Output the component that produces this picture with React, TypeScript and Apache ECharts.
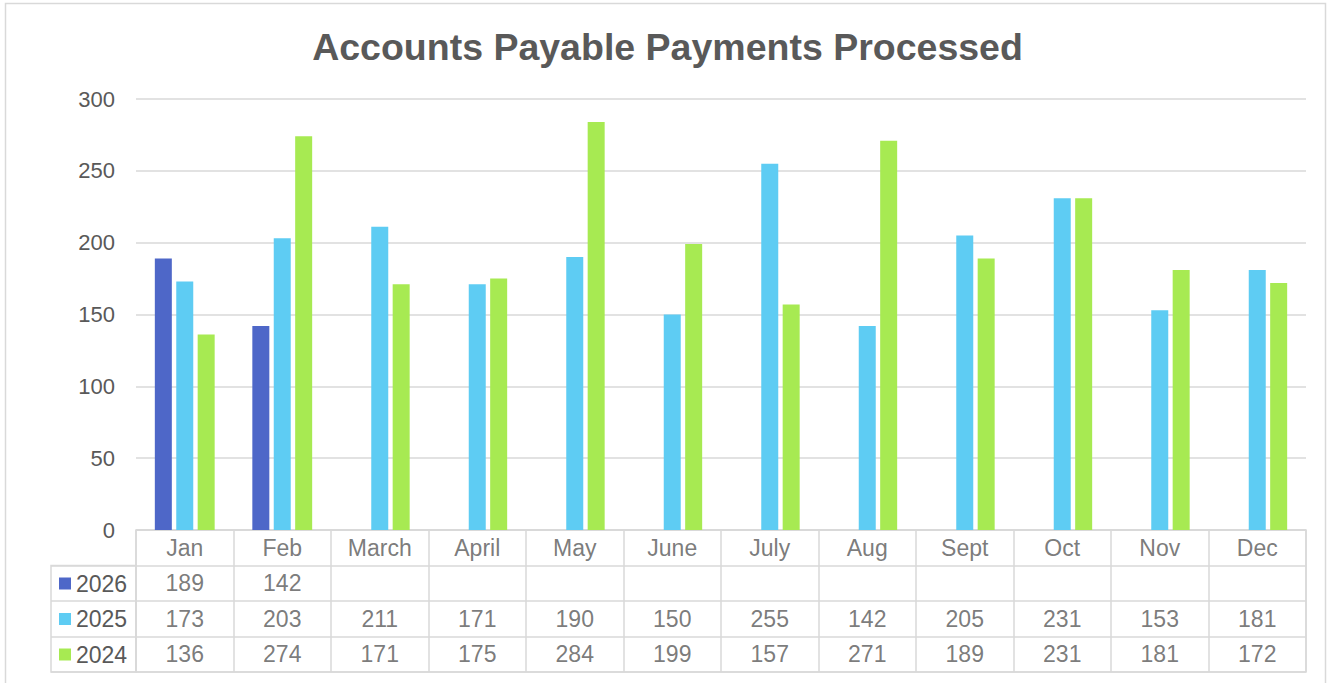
import React, { useEffect, useRef } from "react";
import * as echarts from "echarts";

const months = ["Jan", "Feb", "March", "April", "May", "June", "July", "Aug", "Sept", "Oct", "Nov", "Dec"];
const seriesNames = ["2026", "2025", "2024"];
const values2026: (number | null)[] = [189, 142, null, null, null, null, null, null, null, null, null, null];
const values2025: (number | null)[] = [173, 203, 211, 171, 190, 150, 255, 142, 205, 231, 153, 181];
const values2024: (number | null)[] = [136, 274, 171, 175, 284, 199, 157, 271, 189, 231, 181, 172];
const colors = ["#4E67C8", "#5ECCF3", "#A7EA52"];
const yMax = 300;
const yInterval = 50;

const FONT = "'Liberation Sans', Arial, sans-serif";
const TEXT = "#595959";
const LINE = "#D9D9D9";

export default function App() {
  const ref = useRef<HTMLDivElement>(null);
  useEffect(() => {
    document.body.style.margin = "0";
    const chart = echarts.init(ref.current!, undefined, { renderer: "svg" });
    const allSeries = [values2026, values2025, values2024];
    const tableRows = ["months", ...seriesNames];
    const cells: any[] = [];
    months.forEach((m, i) => {
      cells.push([i, 0, m]);
      allSeries.forEach((s, r) => {
        if (s[i] != null) cells.push([i, r + 1, String(s[i])]);
      });
    });

    chart.setOption({
      animation: false,
      textStyle: { fontFamily: FONT },
      title: {
        text: "Accounts Payable Payments Processed",
        left: "center",
        top: 23,
        textStyle: { fontSize: 37.5, fontWeight: "bold", color: TEXT, fontFamily: FONT },
      },
      graphic: [
        {
          type: "rect",
          shape: { x: 5.5, y: 3.5, width: 1320, height: 720 },
          style: { fill: "none", stroke: LINE, lineWidth: 1.5 },
          silent: true,
        },
      ],
      legend: {
        data: seriesNames,
        orient: "vertical",
        left: 59,
        top: 572,
        padding: 0,
        icon: "rect",
        itemWidth: 12,
        itemHeight: 12,
        itemGap: 12.5,
        selectedMode: false,
        textStyle: { fontSize: 23, color: TEXT, fontFamily: FONT },
      },
      grid: [
        { left: 136, top: 99, width: 1170, height: 431 },
        { left: 136, top: 530, width: 1170, height: 142, show: true, borderColor: LINE, borderWidth: 1.5, backgroundColor: "transparent" },
        { left: 51, top: 565.5, width: 85, height: 106.5, show: true, borderColor: LINE, borderWidth: 1.5, backgroundColor: "transparent" },
      ],
      xAxis: [
        {
          gridIndex: 0,
          type: "category",
          data: months,
          axisLine: { show: false },
          axisTick: { show: false },
          axisLabel: { show: false },
        },
        {
          gridIndex: 1,
          type: "category",
          data: months,
          boundaryGap: true,
          axisLine: { show: false },
          axisTick: { show: false },
          axisLabel: { show: false },
          splitLine: { show: true, interval: 0, lineStyle: { color: LINE, width: 1.5 } },
        },
        { gridIndex: 2, type: "value", show: false },
      ],
      yAxis: [
        {
          gridIndex: 0,
          type: "value",
          min: 0,
          max: yMax,
          interval: yInterval,
          axisLine: { show: false },
          axisTick: { show: false },
          axisLabel: { fontSize: 22, color: TEXT, margin: 21, fontFamily: FONT },
          splitLine: { lineStyle: { color: LINE, width: 1.5 } },
        },
        {
          gridIndex: 1,
          type: "category",
          data: tableRows,
          inverse: true,
          axisLine: { show: false },
          axisTick: { show: false },
          axisLabel: { show: false },
          splitLine: { show: true, interval: 0, lineStyle: { color: LINE, width: 1.5 } },
        },
        {
          gridIndex: 2,
          type: "category",
          data: seriesNames,
          inverse: true,
          axisLine: { show: false },
          axisTick: { show: false },
          axisLabel: { show: false },
          splitLine: { show: true, interval: 0, lineStyle: { color: LINE, width: 1.5 } },
        },
      ],
      series: [
        ...allSeries.map((s, k) => ({
          name: seriesNames[k],
          type: "bar",
          xAxisIndex: 0,
          yAxisIndex: 0,
          data: s,
          barWidth: 17,
          barGap: "26%",
          itemStyle: { color: colors[k] },
          silent: true,
        })),
        {
          type: "scatter",
          xAxisIndex: 1,
          yAxisIndex: 1,
          data: cells,
          symbolSize: 0,
          silent: true,
          label: {
            show: true,
            position: "inside",
            formatter: (p: any) => p.data[2],
            fontSize: 23,
            color: TEXT,
            fontFamily: FONT,
          },
        },
      ],
    });
    return () => chart.dispose();
  }, []);
  return <div ref={ref} style={{ width: 1335, height: 683, position: "absolute", left: 0, top: 0 }} />;
}
